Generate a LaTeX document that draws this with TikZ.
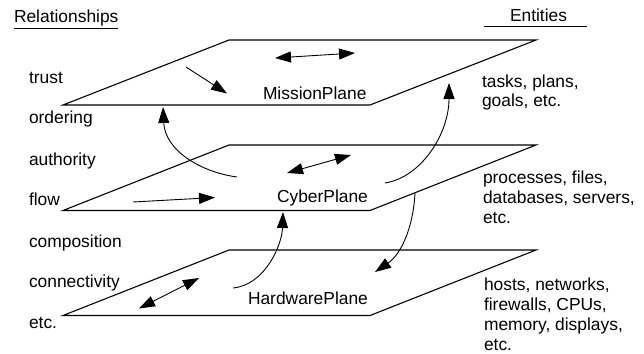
\documentclass[tikz,border=0pt]{standalone}
\usepackage{fontspec}
\setmainfont{Liberation Sans}
\usetikzlibrary{arrows.meta}
\begin{document}
\begin{tikzpicture}[x=1pt,y=-1pt,
  every node/.style={inner sep=0pt,outer sep=0pt,font=\fontsize{17.4}{20}\selectfont},
  lbl/.style={anchor=base west},
  plane/.style={line width=1.1pt,line join=miter},
  conn/.style={line width=0.9pt,-{Triangle[length=16pt,width=11pt]}},
  bconn/.style={line width=0.9pt,{Triangle[length=16pt,width=11pt]}-{Triangle[length=16pt,width=11pt]}},
  uline/.style={line width=0.9pt}]
\useasboundingbox (0,0) rectangle (644,353);
% headers
\node[lbl] (rel) at (14,23) {Relationships};
\coordinate (ra) at (14,28.5);
\coordinate (rb) at (118,28.5);
\draw[uline] (ra) -- (rb);
\node[lbl] (ent) at (510,21.5) {Entities};
\coordinate (ea) at (484,26.5);
\coordinate (eb) at (587,26.5);
\draw[uline] (ea) -- (eb);
% left labels
\node[lbl] (l1) at (29,83) {trust};
\node[lbl] (l2) at (29,123) {ordering};
\node[lbl] (l3) at (29,165) {authority};
\node[lbl] (l4) at (29,205) {flow};
\node[lbl] (l5) at (29,247) {composition};
\node[lbl] (l6) at (29,287) {connectivity};
\node[lbl] (l7) at (29,328) {etc.};
% planes
\coordinate (m1) at (63,105); \coordinate (m2) at (229,40); \coordinate (m3) at (536,40); \coordinate (m4) at (370,105);
\coordinate (c1) at (63,210.5); \coordinate (c2) at (229,145); \coordinate (c3) at (536,145); \coordinate (c4) at (370,210.5);
\coordinate (h1) at (63,315.5); \coordinate (h2) at (229,250); \coordinate (h3) at (536,250); \coordinate (h4) at (370,315.5);
\draw[plane] (m1) -- (m2) -- (m3) -- (m4) -- cycle;
\draw[plane] (c1) -- (c2) -- (c3) -- (c4) -- cycle;
\draw[plane] (h1) -- (h2) -- (h3) -- (h4) -- cycle;
% plane labels
\node[lbl] (mp) at (263,99) {MissionPlane};
\node[lbl] (cp) at (277,202.5) {CyberPlane};
\node[lbl] (hp) at (248,304) {HardwarePlane};
% right labels
\node[lbl] (r1a) at (482,87) {tasks, plans,};
\node[lbl] (r1b) at (482,106) {goals, etc.};
\node[lbl] (r2a) at (483,183) {processes, files,};
\node[lbl] (r2b) at (483,203) {databases, servers,};
\node[lbl] (r2c) at (483,223) {etc.};
\node[lbl] (r3a) at (484,290) {hosts, networks,};
\node[lbl] (r3b) at (484,310) {firewalls, CPUs,};
\node[lbl] (r3c) at (484,330) {memory, displays,};
\node[lbl] (r3d) at (484,350) {etc.};
% arrow endpoints
\coordinate (ma1) at (275,58); \coordinate (ma2) at (355,53);
\coordinate (mb1) at (186,67); \coordinate (mb2) at (227,93.5);
\coordinate (ca1) at (287,173); \coordinate (ca2) at (351,155);
\coordinate (cb1) at (133,202); \coordinate (cb2) at (215,197.5);
\coordinate (ha1) at (139,308.5); \coordinate (ha2) at (199,278);
\coordinate (u1s) at (237,177); \coordinate (u1e) at (163,107);
\coordinate (u2s) at (385,183); \coordinate (u2e) at (449,83);
\coordinate (d1s) at (415,193); \coordinate (d1e) at (375,272);
\coordinate (u3s) at (233,288); \coordinate (u3e) at (283,212);
% connectors
\draw[bconn] (ma1) -- (ma2);
\draw[conn] (mb1) -- (mb2);
\draw[bconn] (ca1) -- (ca2);
\draw[conn] (cb1) -- (cb2);
\draw[bconn] (ha1) -- (ha2);
\draw[conn] (u1s) .. controls (200,172) and (165,150) .. (u1e);
\draw[conn] (u2s) .. controls (422,177) and (449,133) .. (u2e);
\draw[conn] (d1s) .. controls (413,230) and (400,255) .. (d1e);
\draw[conn] (u3s) .. controls (265,285) and (282,245) .. (u3e);
\end{tikzpicture}
\end{document}
